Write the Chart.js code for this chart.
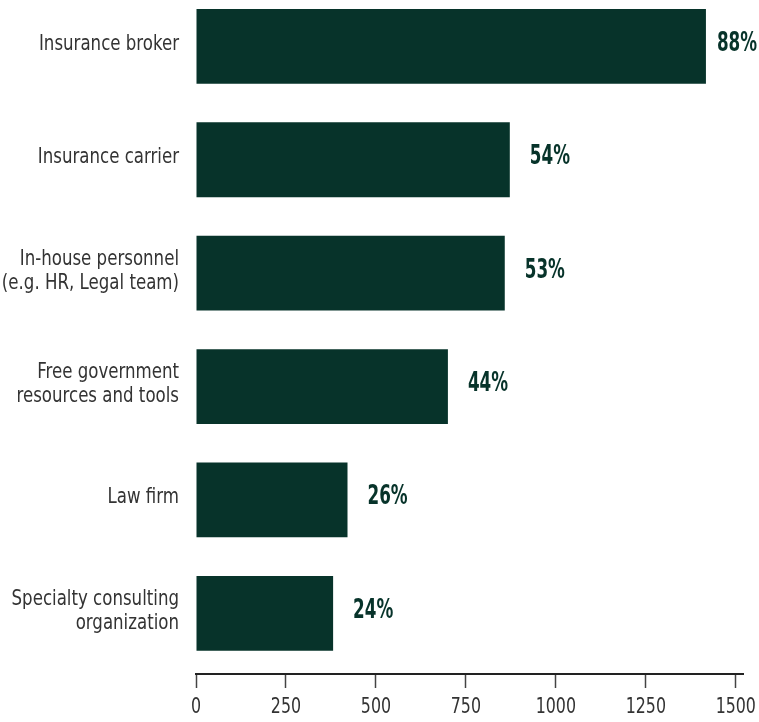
<!DOCTYPE html>
<html>
<head>
<meta charset="utf-8">
<title>Sources of help</title>
<script src="https://cdn.jsdelivr.net/npm/chart.js@4/dist/chart.umd.min.js"></script>
<style>
  html, body { margin: 0; padding: 0; background: #ffffff; }
  #wrap { width: 759px; height: 722px; }
</style>
</head>
<body>
<div id="wrap"><canvas id="chart" width="759" height="722"></canvas></div>
<script>
// Where respondents turn for guidance
const categories = [
  ['Insurance broker'],
  ['Insurance carrier'],
  ['In-house personnel', '(e.g. HR, Legal team)'],
  ['Free government', 'resources and tools'],
  ['Law firm'],
  ['Specialty consulting', 'organization']
];
// Number of respondents choosing each source
const counts = [1417, 872, 858, 700, 421, 381];
// Share of respondents, shown beside each bar
const shareLabels = ['88%', '54%', '53%', '44%', '26%', '24%'];
// Value axis
const xTicks = [0, 250, 500, 750, 1000, 1250, 1500];

const BAR_COLOR = '#07332a';
const TEXT_COLOR = '#333333';
const FONT = "'DejaVu Sans Condensed', 'DejaVu Sans', sans-serif";

// Draws text squeezed horizontally to get a tall, narrow face
function squeezedText(ctx, text, x, y, squeeze, align) {
  ctx.save();
  ctx.translate(x, y);
  ctx.scale(squeeze, 1);
  ctx.textAlign = align;
  ctx.fillText(text, 0, 0);
  ctx.restore();
}

// Axis labels in a condensed style, placed with the chart's own scales
const condensedAxisLabels = {
  id: 'condensedAxisLabels',
  afterDraw(chart) {
    const ctx = chart.ctx;
    const xs = chart.scales.x;
    const ys = chart.scales.y;
    ctx.save();
    ctx.fillStyle = TEXT_COLOR;
    ctx.textBaseline = 'alphabetic';

    ctx.font = '21px ' + FONT;
    const right = chart.chartArea.left - 17;
    const lineGap = 24;
    categories.forEach((lines, i) => {
      const cy = ys.getPixelForValue(i);
      const n = lines.length;
      lines.forEach((line, k) => {
        const base = cy + 3.5 + (k - (n - 1) / 2) * lineGap;
        squeezedText(ctx, line, right, base, 0.88, 'right');
      });
    });

    ctx.font = '22px ' + FONT;
    xTicks.forEach(v => {
      squeezedText(ctx, String(v), xs.getPixelForValue(v), 713, 0.8, 'center');
    });
    ctx.restore();
  }
};

// Percentage figure beside each bar
const shareLabelPlugin = {
  id: 'shareLabels',
  afterDatasetsDraw(chart) {
    const ctx = chart.ctx;
    const meta = chart.getDatasetMeta(0);
    const squeeze = 0.69;
    ctx.save();
    ctx.font = 'bold 27px ' + FONT;
    ctx.fillStyle = BAR_COLOR;
    ctx.textBaseline = 'alphabetic';
    meta.data.forEach((bar, i) => {
      const text = shareLabels[i];
      const w = ctx.measureText(text).width * squeeze;
      let x = bar.x + 20;
      if (x + w > chart.width - 2) x = chart.width - 2 - w;
      squeezedText(ctx, text, x, bar.y + 4.5, squeeze, 'left');
    });
    ctx.restore();
  }
};

new Chart(document.getElementById('chart'), {
  type: 'bar',
  data: {
    datasets: [{
      data: categories.map((c, i) => ({ x: counts[i], y: i })),
      backgroundColor: BAR_COLOR,
      borderWidth: 0,
      barPercentage: 0.66,
      categoryPercentage: 1
    }]
  },
  options: {
    indexAxis: 'y',
    responsive: false,
    animation: false,
    layout: { padding: { left: 0, right: 16, top: 0, bottom: 0 } },
    plugins: {
      legend: { display: false },
      tooltip: { enabled: false }
    },
    scales: {
      x: {
        type: 'linear',
        position: 'bottom',
        min: 0,
        max: 1520,
        afterBuildTicks(scale) {
          scale.ticks = xTicks.map(v => ({ value: v }));
        },
        ticks: { display: false },
        grid: {
          drawOnChartArea: false,
          drawTicks: true,
          tickLength: 14,
          tickWidth: 1.5,
          tickColor: '#444444'
        },
        border: {
          display: true,
          color: '#222222',
          width: 2,
          dash: [8, 1]
        },
        afterFit(scale) {
          scale.height = 48;
          scale.paddingLeft = 0;
          scale.paddingRight = 0;
        }
      },
      y: {
        type: 'linear',
        reverse: true,
        offset: false,
        bounds: 'data',
        min: -0.409,
        max: 5.535,
        afterBuildTicks(scale) {
          scale.ticks = categories.map((c, i) => ({ value: i }));
        },
        ticks: { display: false },
        grid: { display: false, drawTicks: false },
        border: { display: false },
        afterFit(scale) {
          scale.width = 196;
          scale.paddingTop = 0;
          scale.paddingBottom = 0;
        }
      }
    }
  },
  plugins: [shareLabelPlugin, condensedAxisLabels]
});
</script>
</body>
</html>
